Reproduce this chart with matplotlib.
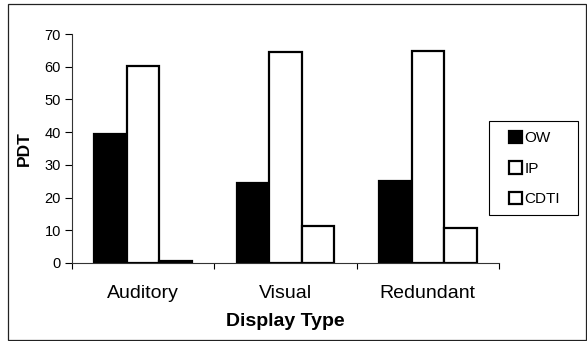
#!/usr/bin/env python3

import numpy as np
import matplotlib
matplotlib.use('Agg')
import matplotlib.pyplot as plt
from matplotlib.patches import Patch, Rectangle

plt.rcParams['font.family'] = ['Liberation Sans', 'DejaVu Sans']

# data
categories = ['Auditory', 'Visual', 'Redundant']
series = ['OW', 'IP', 'CDTI']
ow = [39.5, 24.6, 25.2]
ip = [60.3, 64.4, 64.7]
cdti = [0.5, 11.4, 10.7]
yticks = [0, 10, 20, 30, 40, 50, 60, 70]

values = [ow, ip, cdti]
fills = ['black', 'white', 'white']

W, H = 587, 341
fig = plt.figure(figsize=(W/100, H/100), dpi=100)
ax = fig.add_axes([72/W, 1 - 263/H, (499-72)/W, (263-34)/H])

x = np.arange(len(categories))
w = 0.228
for k, (vals, fc) in enumerate(zip(values, fills)):
	ax.bar(x + (k-1)*w, vals, w, color=fc, edgecolor='black', linewidth=1.6, label=series[k])

ax.set_xlim(-0.5, len(categories)-0.5)
ax.set_ylim(0, 70)
ax.set_yticks(yticks)
ax.tick_params(axis='y', labelsize=10.5, length=5, width=0.8, direction='out', pad=3)

# category ticks sit between groups, labels at group centres
ax.set_xticks(np.arange(len(categories)+1) - 0.5)
ax.set_xticklabels([])
ax.set_xticks(x, minor=True)
ax.set_xticklabels(categories, minor=True, fontsize=14)
ax.tick_params(axis='x', which='major', length=4, width=0.8, direction='out')
ax.tick_params(axis='x', which='minor', length=0, pad=16)

for s in ['top', 'right']:
	ax.spines[s].set_visible(False)
for s in ['left', 'bottom']:
	ax.spines[s].set_linewidth(0.8)
	ax.spines[s].set_color('#333333')

ax.set_xlabel('Display Type', fontsize=14, fontweight='bold', labelpad=8)
ax.set_ylabel('PDT', fontsize=12.5, fontweight='bold', labelpad=9)

# legend box drawn by hand, entries placed inside it
fig.patches.append(Rectangle((489/W, 1 - 215/H), 89/W, 94/H, transform=fig.transFigure,
	fill=False, edgecolor='black', linewidth=0.8))
handles = [Patch(facecolor=fc, edgecolor='black', linewidth=1.6) for fc in fills]
leg = fig.legend(handles, series, loc='upper left', bbox_to_anchor=(509/W, 1 - 131/H),
	fontsize=11, frameon=False, handlelength=0.85, handleheight=0.85,
	handletextpad=0.15, labelspacing=1.05, borderpad=0, borderaxespad=0)

fig.patches.append(Rectangle((8/W, 1/H), 578/W, 336/H, transform=fig.transFigure,
	fill=False, edgecolor='#222222', linewidth=0.9))

fig.savefig('out.png', dpi=100)
